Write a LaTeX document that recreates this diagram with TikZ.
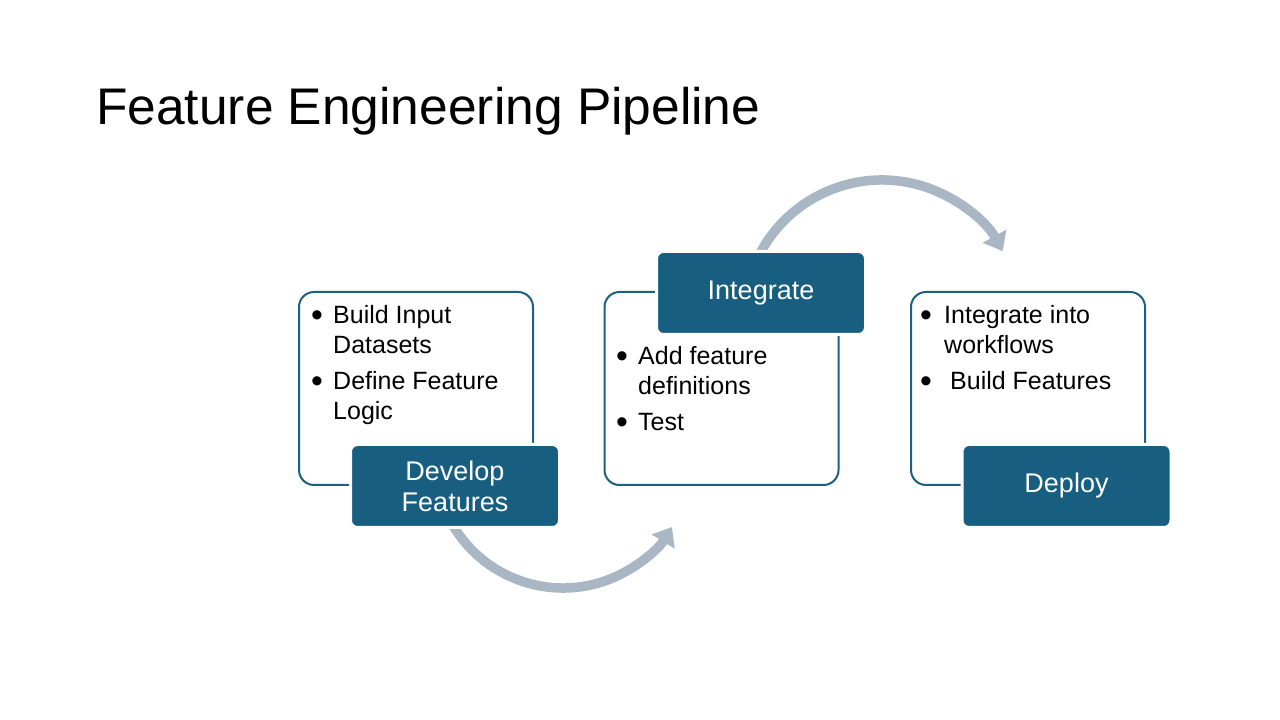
\documentclass[tikz,border=0pt]{standalone}
\usepackage{fontspec}
\usepackage{graphicx}
\setmainfont{Liberation Sans}
\usetikzlibrary{arrows.meta}
\definecolor{stagefill}{HTML}{175E80}
\definecolor{stageline}{HTML}{1D6080}
\definecolor{flowgray}{HTML}{A9B6C4}
% bullet followed by a fixed indent
\newcommand{\bl}[1][21pt]{\makebox[#1][l]{\hspace{-1pt}\raisebox{-3pt}{\scalebox{1.35}{\textbullet}}}}

\begin{document}
\begin{tikzpicture}[x=1pt,y=1pt,
  panel/.style={draw=stageline, line width=2pt, rounded corners=15pt, fill=white,
    inner sep=0pt, minimum width=234pt, minimum height=193pt},
  stage/.style={draw=white, line width=3pt, fill=stagefill, rounded corners=7pt,
    text=white, minimum width=209pt, minimum height=83pt, align=center,
    inner sep=0pt, font=\fontsize{27}{31}\selectfont},
  bullets/.style={anchor=base west, inner sep=0pt, font=\fontsize{25}{30}\selectfont},
  flow/.style={draw=flowgray, line width=9.5pt, -{Triangle[width=26pt,length=17pt]}}]
\useasboundingbox (0,0) rectangle (1280,720);
\fill[white] (0,0) rectangle (1280,720);

% title
\node[anchor=base west, inner sep=0pt, font=\fontsize{51.5}{60}\selectfont] (title)
  at (96,595) {Feature Engineering Pipeline};

% curved flow arrows, drawn first so the stage boxes cover their tails
\coordinate (lowc) at (563,260);
\coordinate (upc) at (882,402);
\draw[flow] (lowc) ++(205:128) coordinate (lowstart) arc[start angle=205, end angle=328.4, radius=128] coordinate (lowend);
\draw[flow] (upc) ++(160:138) coordinate (upstart) arc[start angle=160, end angle=29, radius=138] coordinate (upend);

% outlined panels
\node[panel] (p1) at (416,331.5) {};
\node[panel] (p2) at (721.5,331.5) {};
\node[panel] (p3) at (1028,331.5) {};

% panel contents
\node[bullets] (l1) at (312,396) {\begin{tabular}[t]{@{}l@{}l@{}}
  \bl & Build Input\\ & Datasets\\[6pt]
  \bl & Define Feature\\ & Logic\end{tabular}};
\node[bullets] (l2) at (617,355) {\begin{tabular}[t]{@{}l@{}l@{}}
  \bl & Add feature\\ & definitions\\[6pt]
  \bl & Test\end{tabular}};
\node[bullets] (l3) at (921,396) {\begin{tabular}[t]{@{}l@{}l@{}}
  \bl[23pt] & Integrate into\\ & workflows\\[6pt]
  \bl[23pt] & \hspace{6pt}Build Features\end{tabular}};

% stage labels
\node[stage] (s1) at (455,234) {Develop\\Features};
\node[stage] (s2) at (761,427) {Integrate};
\node[stage] (s3) at (1066.5,234) {Deploy};
\end{tikzpicture}
\end{document}
